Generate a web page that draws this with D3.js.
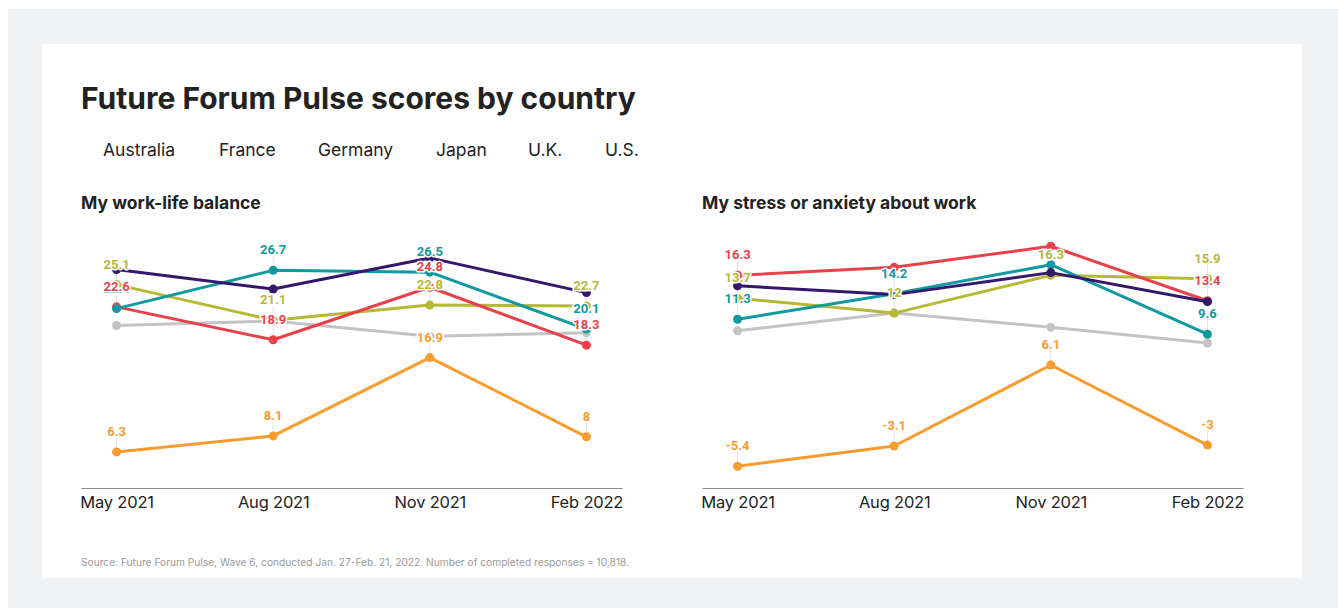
<!DOCTYPE html>
<html>
<head>
<meta charset="utf-8">
<script src="https://cdn.jsdelivr.net/npm/d3@7"></script>
<style>
  body { margin: 0; background: #fff; }
  text { font-family: Inter, "Noto Sans", sans-serif; }
  .val { font-family: Roboto, sans-serif; font-weight: 700; font-size: 13px; paint-order: stroke; stroke: #fff; stroke-width: 3px; stroke-linejoin: round; }
</style>
</head>
<body>
<div id="chart-area"></div>
<script>
var width = 1338;
var height = 608;

var months = ["May 2021", "Aug 2021", "Nov 2021", "Feb 2022"];
var countries = ["Australia", "France", "Germany", "Japan", "U.K.", "U.S."];
var colors = ["#e8414b", "#c5c3c5", "#b6b836", "#f99b2f", "#10999f", "#33186b"];

// work-life balance
var balanceAus = [22.6, 18.9, 24.8, 18.3];
var balanceFra = [20.5, 21.0, 19.3, 19.7];
var balanceGer = [25.1, 21.1, 22.8, 22.7];
var balanceJpn = [6.3, 8.1, 16.9, 8];
var balanceUk  = [22.4, 26.7, 26.5, 20.1];
var balanceUs  = [26.8, 24.6, 28.1, 24.2];
// which points carry a value label
var balanceLabels = [[0, 1, 2, 3], [], [0, 1, 2, 3], [0, 1, 2, 3], [0, 1, 2, 3], []];

// stress or anxiety
var stressAus = [16.3, 17.2, 19.6, 13.4];
var stressFra = [10.0, 12.0, 10.4, 8.6];
var stressGer = [13.7, 12, 16.3, 15.9];
var stressJpn = [-5.4, -3.1, 6.1, -3];
var stressUk  = [11.3, 14.2, 17.5, 9.6];
var stressUs  = [15.1, 14.1, 16.6, 13.3];
var stressLabels = [[0, 3], [], [0, 1, 2, 3], [0, 1, 2, 3], [0, 1, 3], []];

// draw order (back to front)
var order = [1, 2, 0, 4, 5, 3];

var svg = d3.select("#chart-area").append("svg")
  .attr("width", width)
  .attr("height", height)

svg.append("rect").attr("x", 8).attr("y", 9).attr("width", width - 8).attr("height", height - 9).attr("fill", "#f1f2f4")
svg.append("rect").attr("x", 42).attr("y", 44).attr("width", 1260).attr("height", 534).attr("fill", "#fff")

svg.append("text")
  .attr("x", 81).attr("y", 109)
  .attr("font-size", "30px").attr("font-weight", 700)
  .style("fill", "#222")
  .text("Future Forum Pulse scores by country")

// legend (text only)
var legendX = [103, 219, 318, 436, 528, 605];
svg.selectAll(".legend").data(countries).enter().append("text")
  .attr("class", "legend")
  .attr("x", (d, i) => legendX[i]).attr("y", 156)
  .attr("font-size", "17.5px")
  .style("fill", "#222")
  .text(d => d)

svg.append("text")
  .attr("x", 81).attr("y", 566)
  .attr("font-size", "10.2px")
  .style("fill", "#9a9a9a")
  .text("Source: Future Forum Pulse, Wave 6, conducted Jan. 27-Feb. 21, 2022. Number of completed responses = 10,818.")

function drawPanel(x0, x1, title, series, labels, domain, range) {
  var g = svg.append("g")

  g.append("text")
    .attr("x", x0).attr("y", 209)
    .attr("font-size", "17.5px").attr("font-weight", 700)
    .style("fill", "#222")
    .text(title)

  var x = d3.scalePoint().domain(months).range([x0, x1]).padding(0.227)
  var y = d3.scaleLinear().domain(domain).range(range)

  var xAxisCall = d3.axisBottom(x).tickSize(0).tickPadding(8)
  var ax = g.append("g")
    .attr("transform", "translate(0, 488)")
    .call(xAxisCall)
  ax.select(".domain").attr("stroke", "#8c8c8c")
  ax.selectAll("text")
    .attr("font-size", "16.5px")
    .style("font-family", "Inter, sans-serif")
    .attr("letter-spacing", "-0.2px")
    .style("fill", "#222")

  var line = d3.line().x((d, i) => x(months[i])).y(d => y(d))

  // leader lines first
  order.forEach(s => {
    labels[s].forEach(i => {
      g.append("line")
        .attr("x1", x(months[i])).attr("x2", x(months[i]))
        .attr("y1", y(series[s][i]) - 16).attr("y2", y(series[s][i]))
        .attr("stroke", "#e3e3e3").attr("stroke-width", 1)
    })
  })

  order.forEach(s => {
    g.append("path")
      .datum(series[s])
      .attr("d", line)
      .attr("fill", "none")
      .attr("stroke", colors[s])
      .attr("stroke-width", 3)
      .attr("stroke-linejoin", "round")
    g.selectAll(null).data(series[s]).enter().append("circle")
      .attr("cx", (d, i) => x(months[i]))
      .attr("cy", d => y(d))
      .attr("r", 4.5)
      .attr("fill", colors[s])
  })

  var labelOrder = [4, 0, 2, 3];
  labelOrder.forEach(s => {
    labels[s].forEach(i => {
      g.append("text")
        .attr("class", "val")
        .attr("x", x(months[i]))
        .attr("y", y(series[s][i]) - 16)
        .attr("text-anchor", "middle")
        .style("fill", colors[s])
        .text(series[s][i])
    })
  })
}

drawPanel(81, 622, "My work-life balance",
  [balanceAus, balanceFra, balanceGer, balanceJpn, balanceUk, balanceUs], balanceLabels,
  [0, 30], [508, 241])

drawPanel(702, 1243, "My stress or anxiety about work",
  [stressAus, stressFra, stressGer, stressJpn, stressUk, stressUs], stressLabels,
  [-6, 20], [471.5, 242.7])
</script>
</body>
</html>
